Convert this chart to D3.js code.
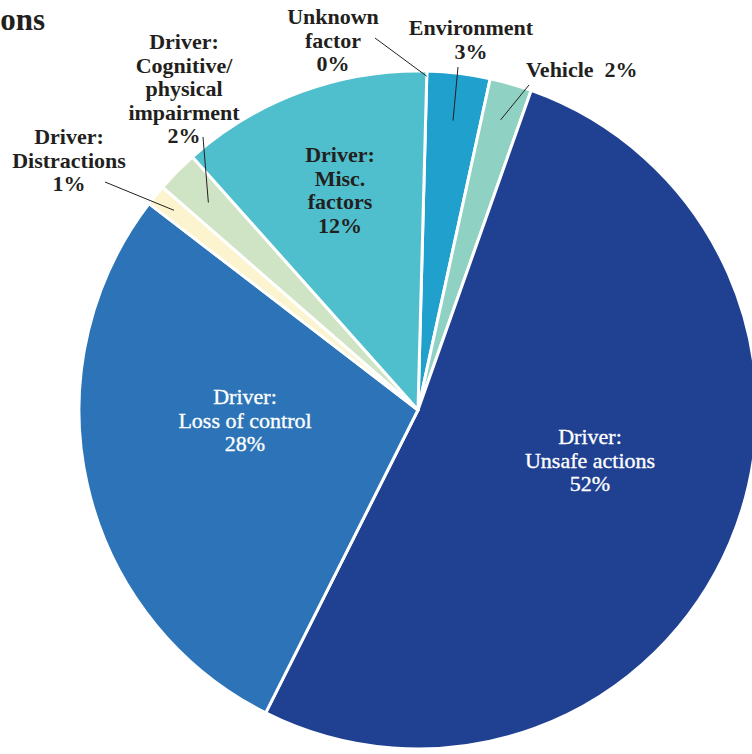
<!DOCTYPE html>
<html>
<head>
<meta charset="utf-8">
<script src="https://cdn.jsdelivr.net/npm/d3@7/dist/d3.min.js"></script>
<style>
  html, body { margin: 0; padding: 0; background: #ffffff; }
  svg { display: block; }
</style>
</head>
<body>
<svg id="chart" width="752" height="754"></svg>
<script>
// Share of collisions by contributing factor (percent)
const categories = [
  "Unknown factor",
  "Environment",
  "Vehicle",
  "Driver: Unsafe actions",
  "Driver: Loss of control",
  "Driver: Distractions",
  "Driver: Cognitive/physical impairment",
  "Driver: Misc. factors"
];
const values = [0, 3, 2, 52, 28, 1, 2, 12];
const labelLines = [
  ["Unknown", "factor"],
  ["Environment"],
  ["Vehicle"],
  ["Driver:", "Unsafe actions"],
  ["Driver:", "Loss of control"],
  ["Driver:", "Distractions"],
  ["Driver:", "Cognitive/", "physical", "impairment"],
  ["Driver:", "Misc.", "factors"]
];
const colors = ["#ffffff", "#20a0cc", "#8fd2c3", "#204192", "#2c74b7", "#fbf4cf", "#cfe4c4", "#50bfcd"];

// Label placement: text anchor point and optional leader line
const layout = [
  { x: 333, y: 24, inside: false, leader: { x: 375, y: 38, r: 0.985 } },
  { x: 471, y: 35, inside: false, leader: { x: 458, y: 67, r: 0.86 } },
  { x: 526, y: 77, inside: false, inline: true, leader: { x: 529, y: 85, r: 0.89 } },
  { x: 590, y: 444, inside: true },
  { x: 245, y: 404, inside: true },
  { x: 69, y: 144, inside: false, leader: { x: 105, y: 182, r: 0.93 } },
  { x: 184, y: 49, inside: false, leader: { x: 203, y: 137, r: 0.87 } },
  { x: 340, y: 162, inside: true, dark: true }
];

const svg = d3.select("#chart");
const cx = 418, cy = 410, radius = 339;
const offset = 1.5 * Math.PI / 180;

const pie = d3.pie().sort(null).value(d => d)
  .startAngle(offset).endAngle(2 * Math.PI + offset);
const arcs = pie(values);
const arc = d3.arc().innerRadius(0).outerRadius(radius);

const g = svg.append("g").attr("transform", `translate(${cx},${cy})`);

g.selectAll("path.slice")
  .data(arcs)
  .join("path")
  .attr("class", "slice")
  .attr("d", arc)
  .attr("fill", (d, i) => colors[i])
  .attr("stroke", "#ffffff")
  .attr("stroke-width", 3)
  .attr("stroke-linejoin", "round");

// Cropped heading at the top-left
svg.append("text")
  .attr("x", 45).attr("y", 30)
  .attr("text-anchor", "end")
  .attr("font-family", "'Liberation Serif', 'Times New Roman', serif")
  .attr("font-weight", "bold")
  .attr("font-size", 31)
  .attr("fill", "#231f20")
  .text("ons");

const pct = d3.format(".0f");
const lineH = 23.5;

arcs.forEach((a, i) => {
  const L = layout[i];
  const white = L.inside && !L.dark;
  const fill = white ? "#ffffff" : "#231f20";

  // Leader line from the label toward its slice
  if (L.leader) {
    const mid = (a.startAngle + a.endAngle) / 2;
    const r = radius * L.leader.r;
    const px = cx + r * Math.sin(mid);
    const py = cy - r * Math.cos(mid);
    svg.append("line")
      .attr("x1", L.leader.x).attr("y1", L.leader.y)
      .attr("x2", px).attr("y2", py)
      .attr("stroke", "#231f20")
      .attr("stroke-width", 1);
  }

  const t = svg.append("text")
    .attr("font-family", "'Liberation Serif', 'Times New Roman', serif")
    .attr("font-weight", "bold")
    .attr("font-size", 22)
    .attr("fill", fill);
  if (white) {
    // lighter face for the labels set inside the dark slices
    t.attr("font-weight", "normal")
      .attr("stroke", "#ffffff").attr("stroke-width", 0.35);
  }

  if (L.inline) {
    t.attr("x", L.x).attr("y", L.y).attr("text-anchor", "start")
      .text(labelLines[i][0] + "\u00a0\u00a0" + pct(values[i]) + "%");
    return;
  }

  t.attr("text-anchor", "middle");
  const lines = labelLines[i].concat([pct(values[i]) + "%"]);
  lines.forEach((s, k) => {
    t.append("tspan")
      .attr("x", L.x)
      .attr("y", L.y + k * lineH)
      .text(s);
  });
});
</script>
</body>
</html>
